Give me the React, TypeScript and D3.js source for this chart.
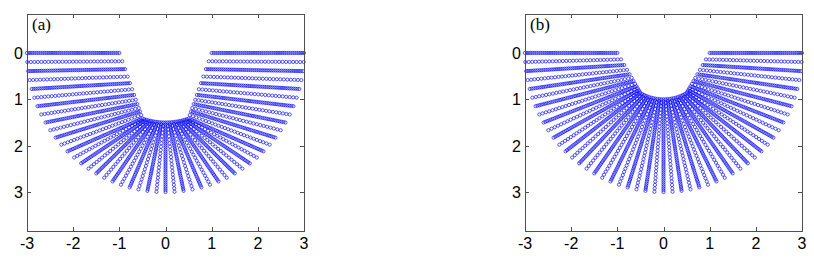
import React from "react";
import * as d3 from "d3";

// ---- data (left half of each fan, mirrored to the right) ----
// outer end angle of each ray, degrees measured downward from the -x axis; outer radius 3
const rayAngles = [0, 3.75, 7.5, 11.25, 15, 18.75, 22.5, 26.25, 30, 33.75, 37.5, 41.25, 45, 48.75, 52.5, 56.25, 60, 63.75, 67.5, 71.25, 75, 78.75, 82.5, 86.25, 90];
const outerRadius = 3;

// inner end of each ray (on the trench boundary), panel (a)
const innerAX = [-1, -0.937, -0.877, -0.82, -0.77, -0.723, -0.68, -0.643, -0.61, -0.58, -0.553, -0.527, -0.5, -0.46, -0.419, -0.378, -0.337, -0.296, -0.254, -0.212, -0.17, -0.127, -0.085, -0.043, 0];
const innerAY = [0, 0.179, 0.349, 0.509, 0.651, 0.783, 0.905, 1.009, 1.103, 1.188, 1.263, 1.339, 1.414, 1.428, 1.44, 1.452, 1.462, 1.471, 1.478, 1.485, 1.49, 1.495, 1.498, 1.499, 1.5];

// inner end of each ray, panel (b)
const innerBX = [-1, -0.92, -0.85, -0.79, -0.735, -0.69, -0.65, -0.615, -0.585, -0.56, -0.538, -0.518, -0.5, -0.462, -0.423, -0.383, -0.342, -0.301, -0.259, -0.216, -0.174, -0.131, -0.087, -0.044, 0];
const innerBY = [0, 0.139, 0.26, 0.364, 0.459, 0.537, 0.606, 0.667, 0.719, 0.762, 0.801, 0.836, 0.866, 0.887, 0.906, 0.924, 0.94, 0.954, 0.966, 0.976, 0.985, 0.991, 0.996, 0.999, 1];

// marker spacing along a ray (data units): even rays dense, odd rays sparse
const markerSteps = [0.042, 0.075];

const xTicks = [-3, -2, -1, 0, 1, 2, 3];
const yTicks = [0, 1, 2, 3];
const panelLabels = ["(a)", "(b)"];

const W = 814;
const H = 263;

type Ray = { x0: number; y0: number; x1: number; y1: number; step: number };

function buildRays(ix: number[], iy: number[]): Ray[] {
  const rays: Ray[] = [];
  const n = rayAngles.length;
  for (let k = 0; k < n; k++) {
    const a = (rayAngles[k] * Math.PI) / 180;
    rays.push({ x0: ix[k], y0: iy[k], x1: -outerRadius * Math.cos(a), y1: outerRadius * Math.sin(a), step: markerSteps[k % 2] });
  }
  for (let k = n - 2; k >= 0; k--) {
    const a = (rayAngles[k] * Math.PI) / 180;
    const idx = 2 * (n - 1) - k;
    rays.push({ x0: -ix[k], y0: iy[k], x1: outerRadius * Math.cos(a), y1: outerRadius * Math.sin(a), step: markerSteps[idx % 2] });
  }
  return rays;
}

function Panel({ left, right, top, bottom, label, ix, iy }: { left: number; right: number; top: number; bottom: number; label: string; ix: number[]; iy: number[] }) {
  const x = d3.scaleLinear().domain([-3, 3]).range([left, right]);
  const y = d3.scaleLinear().domain([-0.84, 3.84]).range([top, bottom]);
  const rays = buildRays(ix, iy);
  const pts: [number, number][] = [];
  rays.forEach((r) => {
    const len = Math.hypot(r.x1 - r.x0, r.y1 - r.y0);
    const n = Math.round(len / r.step);
    for (let i = 0; i <= n; i++) {
      const t = i / n;
      pts.push([x(r.x0 + (r.x1 - r.x0) * t), y(r.y0 + (r.y1 - r.y0) * t)]);
    }
  });
  const tl = 4;
  const axisColor = "#505050";
  const font = "'Liberation Sans', Arial, Helvetica, sans-serif";
  return (
    <g>
      <g>
        {pts.map((p, i) => (
          <circle key={i} cx={p[0]} cy={p[1]} r={1.6} fill="none" stroke="#0000ff" strokeWidth={0.65} />
        ))}
      </g>
      <rect x={left + 0.5} y={top + 0.5} width={right - left} height={bottom - top} fill="none" stroke={axisColor} strokeWidth={1} />
      {xTicks.map((t) => (
        <g key={"x" + t}>
          <line x1={Math.round(x(t)) + 0.5} x2={Math.round(x(t)) + 0.5} y1={bottom} y2={bottom - tl} stroke={axisColor} />
          <line x1={Math.round(x(t)) + 0.5} x2={Math.round(x(t)) + 0.5} y1={top} y2={top + tl} stroke={axisColor} />
          <text x={x(t)} y={bottom + 18} textAnchor="middle" fontFamily={font} fontSize="16px" fill="#000">
            {t}
          </text>
        </g>
      ))}
      {yTicks.map((t) => (
        <g key={"y" + t}>
          <line x1={left} x2={left + tl} y1={Math.round(y(t)) + 0.5} y2={Math.round(y(t)) + 0.5} stroke={axisColor} />
          <line x1={right} x2={right - tl} y1={Math.round(y(t)) + 0.5} y2={Math.round(y(t)) + 0.5} stroke={axisColor} />
          <text x={left - 4} y={y(t) + 6} textAnchor="end" fontFamily={font} fontSize="16px" fill="#000">
            {t}
          </text>
        </g>
      ))}
      <text x={left + 5} y={top + 16} fontFamily="'Liberation Serif', 'Times New Roman', serif" fontSize="17px" fill="#000">
        {label}
      </text>
    </g>
  );
}

export default function App() {
  return (
    <div style={{ position: "fixed", left: 0, top: 0, width: W, height: H, background: "#fff" }}>
      <svg width={W} height={H} viewBox={`0 0 ${W} ${H}`}>
        <rect width={W} height={H} fill="#fff" />
        <Panel left={27} right={304} top={14} bottom={231} label={panelLabels[0]} ix={innerAX} iy={innerAY} />
        <Panel left={525} right={802} top={14} bottom={231} label={panelLabels[1]} ix={innerBX} iy={innerBY} />
      </svg>
    </div>
  );
}
